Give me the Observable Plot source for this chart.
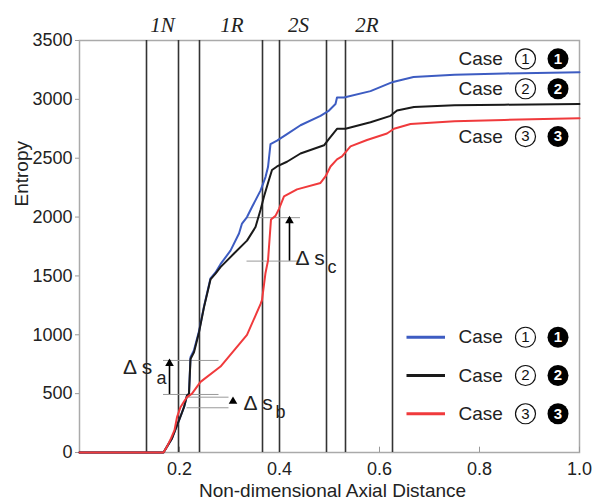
<!DOCTYPE html>
<html><head><meta charset="utf-8">
<script src="https://cdn.jsdelivr.net/npm/d3@7"></script>
<script src="https://cdn.jsdelivr.net/npm/@observablehq/plot@0.6"></script>
<style>body{margin:0;background:#fff;font-family:"Liberation Sans",Arial,sans-serif}</style>
</head><body><div id="chart"></div>
<script>
// ---- data ----
const case1X = [0, 0.168, 0.175, 0.185, 0.195, 0.199, 0.209, 0.215, 0.219, 0.222, 0.229, 0.239, 0.249, 0.262, 0.272, 0.282, 0.302, 0.319, 0.325, 0.335, 0.345, 0.362, 0.372, 0.377, 0.382, 0.395, 0.415, 0.442, 0.482, 0.499, 0.512, 0.515, 0.529, 0.582, 0.622, 0.629, 0.668, 0.75, 0.85, 1.0];
const case1Y = [0, 0, 50, 120, 230, 272, 385, 485, 500, 810, 870, 1030, 1240, 1480, 1530, 1600, 1715, 1860, 1945, 2000, 2085, 2225, 2340, 2425, 2620, 2650, 2705, 2780, 2860, 2905, 2960, 3015, 3015, 3070, 3140, 3150, 3190, 3210, 3220, 3230];

const case2X = [0, 0.168, 0.175, 0.185, 0.195, 0.199, 0.209, 0.215, 0.219, 0.222, 0.229, 0.239, 0.249, 0.262, 0.272, 0.282, 0.309, 0.335, 0.352, 0.362, 0.369, 0.377, 0.385, 0.395, 0.415, 0.442, 0.489, 0.499, 0.515, 0.532, 0.582, 0.622, 0.635, 0.669, 0.75, 0.85, 1.0];
const case2Y = [0, 0, 50, 120, 230, 272, 385, 485, 500, 795, 852, 1020, 1235, 1470, 1520, 1575, 1690, 1800, 1915, 2060, 2175, 2290, 2400, 2430, 2470, 2540, 2610, 2665, 2750, 2750, 2805, 2860, 2905, 2935, 2950, 2955, 2960];

const case3X = [0, 0.168, 0.175, 0.183, 0.19, 0.195, 0.202, 0.21, 0.215, 0.225, 0.242, 0.282, 0.335, 0.362, 0.365, 0.372, 0.377, 0.383, 0.392, 0.399, 0.409, 0.435, 0.482, 0.492, 0.502, 0.515, 0.525, 0.542, 0.575, 0.615, 0.629, 0.662, 0.75, 0.85, 1.0];
const case3Y = [0, 0, 50, 120, 190, 300, 385, 440, 470, 500, 600, 730, 1000, 1260, 1295, 1525, 1630, 1980, 2010, 2070, 2175, 2235, 2290, 2345, 2430, 2490, 2515, 2600, 2655, 2710, 2750, 2790, 2815, 2825, 2840];

const caseNames = ["1", "2", "3"];
const caseColors = ["#3d5cc2", "#1a1a1a", "#f03a3c"];

const sectionX = [0.134, 0.198, 0.24, 0.366, 0.4, 0.494, 0.532, 0.626];
const sectionLabels = ["1N", "1R", "2S", "2R"];
const sectionLabelX = [0.166, 0.305, 0.438, 0.575];

const yTicks = [0, 500, 1000, 1500, 2000, 2500, 3000, 3500];
const xTicks = [0.2, 0.4, 0.6, 0.8, 1.0];

// end-of-curve labels and legend rows (y positions in entropy units)
const endLabelY = [3344, 3090, 2684];
const legendY = [979, 654, 329];

// Δs annotations: reference levels (entropy) and extents (axial distance)
const annoNames = ["a", "b", "c"];
const annoLow = [493, 380, 1626];
const annoHigh = [782, 470, 1995];
const annoX1 = [0.168, 0.215, 0.335];
const annoX2 = [0.279, 0.299, 0.442];
const arrowX = [0.18, 0.307, 0.42];
const arrowFrom = [493, 425, 1626];
const annoTextX = [0.087, 0.328, 0.432];
const annoTextY = [671, 357, 1589];
const annoSubX = [0.154, 0.392, 0.496];
const annoSubY = [586, 297, 1521];

// ---- build tables ----
const series = [case1X, case2X, case3X].map((xs, k) => {
  const ys = [case1Y, case2Y, case3Y][k];
  return xs.map((x, i) => ({x, y: ys[i], c: caseNames[k]}));
});
const cases = caseNames.map((n, i) => ({n, color: caseColors[i], endY: endLabelY[i], legY: legendY[i]}));
const annoLines = annoNames.flatMap((n, i) => [
  {y: annoLow[i], x1: annoX1[i], x2: annoX2[i]},
  {y: annoHigh[i], x1: annoX1[i], x2: annoX2[i]}
]);
const arrows = annoNames.map((n, i) => ({x: arrowX[i], y1: arrowFrom[i], y2: annoHigh[i] - (n === "b" ? 10 : 0), n}));
const annoText = annoNames.map((n, i) => ({n, x: annoTextX[i], y: annoTextY[i], sx: annoSubX[i], sy: annoSubY[i]}));

const badgeRows = cases.flatMap(c => [{n: c.n, y: c.endY}, {n: c.n, y: c.legY}]);
const TXT = "#222";
const FONT = "Liberation Sans, Arial, sans-serif";

const chart = Plot.plot({
  width: 595,
  height: 500,
  marginLeft: 79,
  marginRight: 16,
  marginTop: 40,
  marginBottom: 48,
  style: {fontFamily: FONT, background: "#fff"},
  x: {domain: [0, 1]},
  y: {domain: [0, 3500]},
  marks: [
    Plot.frame({stroke: "#aaa", strokeWidth: 1.5}),
    Plot.axisY({ticks: yTicks, tickFormat: d => String(d), tickSize: 4, tickPadding: 3, stroke: "#999", fill: TXT, fontSize: 18, label: null}),
    Plot.axisX({ticks: xTicks, tickFormat: d => d.toFixed(1), tickSize: 0, tickPadding: 10, fill: TXT, fontSize: 18, label: null}),
    Plot.ruleX(xTicks, {y1: 0, y2: 45, stroke: "#999", strokeWidth: 1}),
    Plot.text(["Non-dimensional Axial Distance"], {frameAnchor: "bottom", lineAnchor: "middle", dy: 38, dx: 3, fontSize: 19, fill: TXT}),
    Plot.text(["Entropy"], {frameAnchor: "left", rotate: -90, dx: -58, dy: -40, fontSize: 19, fill: TXT}),
    Plot.ruleX(sectionX, {stroke: "#333", strokeWidth: 1.6}),
    Plot.text(sectionLabels, {x: (d, i) => sectionLabelX[i], frameAnchor: "top", lineAnchor: "bottom", dy: -9, fontFamily: "Liberation Serif, Times New Roman, serif", fontStyle: "italic", fontSize: 21, fill: "#222"}),
    // annotation lines
    Plot.ruleY(annoLines, {y: "y", x1: "x1", x2: "x2", stroke: "#999", strokeWidth: 1}),
    // curves
    ...series.map((s, k) => Plot.line(s, {x: "x", y: "y", stroke: caseColors[k], strokeWidth: 2})),
    // arrows
    Plot.ruleX(arrows.filter(d => d.n !== "b"), {x: "x", y1: "y1", y2: "y2", stroke: "#000", strokeWidth: 1.6}),
    Plot.dot(arrows, {x: "x", y: "y2", symbol: "triangle", fill: "#000", r: 3.2, dy: 3}),
    Plot.text(annoText, {x: "x", y: "y", text: d => "Δ s", textAnchor: "start", lineAnchor: "bottom", fontSize: 21, fill: TXT}),
    Plot.text(annoText, {x: "sx", y: "sy", text: "n", textAnchor: "start", lineAnchor: "bottom", fontSize: 18, fill: TXT}),
    // legend lines
    Plot.ruleY(cases, {y: "legY", x1: 0.655, x2: 0.732, stroke: "color", strokeWidth: 3}),
    // labels "Case ① ❶"
    Plot.text(badgeRows, {x: 0.758, y: "y", text: d => "Case", textAnchor: "start", lineAnchor: "middle", fontSize: 19, fill: TXT}),
    Plot.dot(badgeRows, {x: 0.892, y: "y", r: 10, stroke: "#111", strokeWidth: 1.2, fill: "#fff"}),
    Plot.text(badgeRows, {x: 0.892, y: "y", text: "n", lineAnchor: "middle", fontSize: 15, fill: "#111"}),
    Plot.dot(badgeRows, {x: 0.957, y: "y", r: 10.5, fill: "#000"}),
    Plot.text(badgeRows, {x: 0.957, y: "y", text: "n", lineAnchor: "middle", fontSize: 15, fontWeight: "bold", fill: "#fff"})
  ]
});
document.getElementById("chart").appendChild(chart);
</script>
</body></html>
